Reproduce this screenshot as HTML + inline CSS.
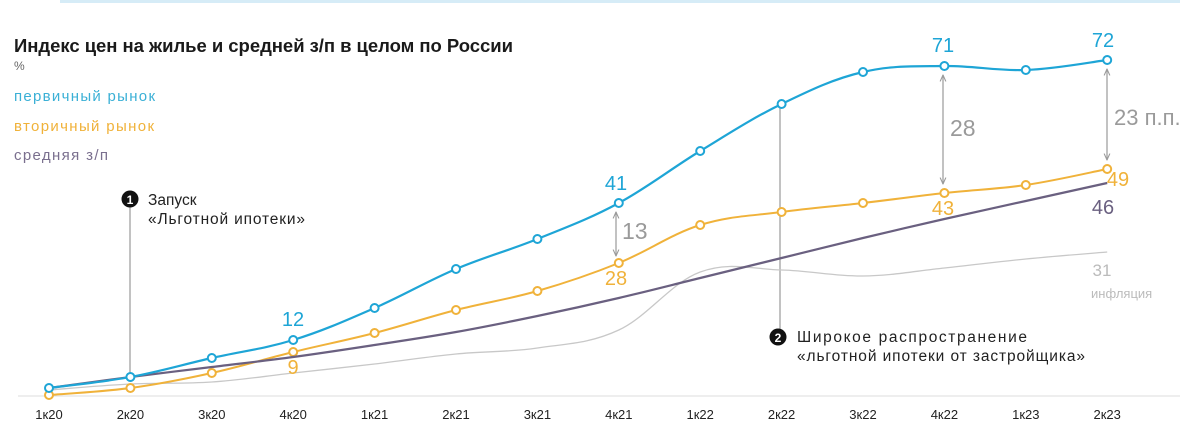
<!DOCTYPE html>
<html><head><meta charset="utf-8"><style>
html,body{margin:0;padding:0;background:#fff;}
svg{display:block;font-family:"Liberation Sans","DejaVu Sans",sans-serif;}
</style></head><body>
<svg id="s" width="1200" height="439" viewBox="0 0 1200 439">
<defs>
<marker id="ar" viewBox="0 0 10 10" refX="9" refY="5" markerWidth="6" markerHeight="6" orient="auto-start-reverse"><path d="M0,1 L9,5 L0,9" fill="none" stroke="#9a9a9a" stroke-width="1.5"/></marker>
</defs>
<rect x="60" y="0" width="1120" height="3" fill="#d6ecf7"/>
<text x="14" y="52" font-size="18.5" font-weight="bold" fill="#1a1a1a" textLength="499">Индекс цен на жилье и средней з/п в целом по России</text>
<text x="14" y="70" font-size="12" fill="#666">%</text>
<text x="14" y="101" font-size="15" fill="#3bb0d6" textLength="141">первичный рынок</text>
<text x="14" y="131" font-size="15" fill="#f0b23a" textLength="140">вторичный рынок</text>
<text x="14" y="160" font-size="15" fill="#7a6f8e" textLength="94">средняя з/п</text>
<line x1="18" y1="396" x2="1180" y2="396" stroke="#ddd" stroke-width="1"/>
<g id="ann" stroke="#9a9a9a" stroke-width="1.2">
<line x1="130" y1="207" x2="130" y2="377"/>
<line x1="780" y1="104" x2="780" y2="330"/>
<line x1="616" y1="212" x2="616" y2="256" marker-start="url(#ar)" marker-end="url(#ar)"/>
<line x1="943" y1="75" x2="943" y2="184" marker-start="url(#ar)" marker-end="url(#ar)"/>
<line x1="1107" y1="69" x2="1107" y2="160" marker-start="url(#ar)" marker-end="url(#ar)"/>
</g>
<g id="lines"></g>
<circle cx="130" cy="199" r="8.5" fill="#111"/><text x="130" y="204" font-size="12" font-weight="bold" fill="#fff" text-anchor="middle">1</text>
<text x="148" y="205" font-size="15.5" fill="#222">Запуск</text>
<text x="148" y="224" font-size="15.5" fill="#222" textLength="157">«Льготной ипотеки»</text>
<circle cx="778" cy="337" r="8.5" fill="#111"/><text x="778" y="342" font-size="12" font-weight="bold" fill="#fff" text-anchor="middle">2</text>
<text x="797" y="342" font-size="15.5" fill="#222" textLength="230">Широкое распространение</text>
<text x="797" y="361" font-size="15.5" fill="#222" textLength="288">«льготной ипотеки от застройщика»</text>
<g font-size="20" text-anchor="middle">
<text x="293" y="326" fill="#1ea5d6">12</text>
<text x="293" y="374" fill="#f0b23a">9</text>
<text x="616" y="190" fill="#1ea5d6">41</text>
<text x="616" y="285" fill="#f0b23a">28</text>
<text x="943" y="52" fill="#1ea5d6">71</text>
<text x="943" y="215" fill="#f0b23a">43</text>
<text x="1103" y="47" fill="#1ea5d6">72</text>
<text x="1118" y="186" fill="#f0b23a">49</text>
<text x="1103" y="214" fill="#6a6080">46</text>
<text x="1102" y="276" fill="#bbb" font-size="17">31</text>
</g>
<text x="1091" y="298" font-size="13" fill="#bbb">инфляция</text>
<text x="622" y="239" font-size="23" fill="#9a9a9a">13</text>
<text x="950" y="136" font-size="23" fill="#9a9a9a">28</text>
<text x="1114" y="125" font-size="22" fill="#9a9a9a">23 п.п.</text>
<g id="ticks" font-size="13" fill="#222" text-anchor="middle"></g>
</svg>
<script>
var X=[];for(var i=0;i<14;i++)X.push(49+81.4*i);
var blue=[388,377,358,340,308,269,239,203,151,104,72,66,70,60];
var org=[395,388,373,352,333,310,291,263,225,212,203,193,185,169];
var pur=[388,377,367,357,345,332,316,298,278,258,238,219,201,183];
var gry=[390,384,382,373,364,354,348,330,272,270,276,268,259,252];
function path(Y){var p=[];for(var i=0;i<Y.length;i++)p.push([X[i],Y[i]]);
var d="M"+p[0][0]+","+p[0][1];
for(var i=0;i<p.length-1;i++){var p0=p[i-1]||p[i],p1=p[i],p2=p[i+1],p3=p[i+2]||p2;
var t=0.18;d+=" C"+(p1[0]+(p2[0]-p0[0])*t)+","+(p1[1]+(p2[1]-p0[1])*t)+" "+(p2[0]-(p3[0]-p1[0])*t)+","+(p2[1]-(p3[1]-p1[1])*t)+" "+p2[0]+","+p2[1];}
return d;}
var g=document.getElementById("lines"),ns="http://www.w3.org/2000/svg";
function add(Y,c,w,pts){var e=document.createElementNS(ns,"path");e.setAttribute("d",path(Y));e.setAttribute("fill","none");e.setAttribute("stroke",c);e.setAttribute("stroke-width",w);g.appendChild(e);
if(pts)for(var i=0;i<Y.length;i++){var k=document.createElementNS(ns,"circle");k.setAttribute("cx",X[i]);k.setAttribute("cy",Y[i]);k.setAttribute("r",4);k.setAttribute("fill","#fff");k.setAttribute("stroke",c);k.setAttribute("stroke-width",2);g.appendChild(k);}}
add(gry,"#c8c8c8",1.3,false);
add(org,"#f0b23a",2,true);
add(pur,"#6a6080",2.2,false);
add(blue,"#1ea5d6",2.2,true);
var n=["1к20","2к20","3к20","4к20","1к21","2к21","3к21","4к21","1к22","2к22","3к22","4к22","1к23","2к23"];
var t=document.getElementById("ticks");
for(var i=0;i<14;i++){var e=document.createElementNS(ns,"text");e.setAttribute("x",X[i]);e.setAttribute("y",419);e.textContent=n[i];t.appendChild(e);}
</script>
</body></html>
